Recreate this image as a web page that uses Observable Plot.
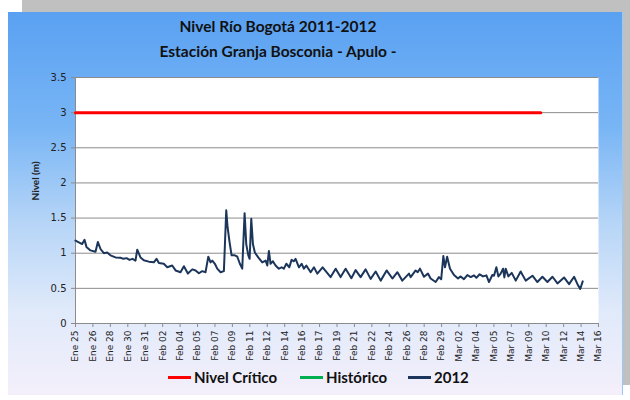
<!DOCTYPE html>
<html>
<head>
<meta charset="utf-8">
<script src="https://cdn.jsdelivr.net/npm/d3@7"></script>
<script src="https://cdn.jsdelivr.net/npm/@observablehq/plot@0.6"></script>
<style>
  body { margin: 0; background: #ffffff; }
  #wrap { position: relative; width: 630px; height: 400px; overflow: hidden; font-family: Lato, "Open Sans", sans-serif; }
  #shadow { position: absolute; left: 22px; top: 0; width: 608px; height: 385px; background: #c0c0c0; }
  #panel { position: absolute; left: 8px; top: 12px; width: 614px; height: 383px;
    background: linear-gradient(to bottom, #5aa1f2 0%, #78b5f5 30%, #b6d5f7 55%, #e0eafa 78%, #f4effb 100%);
    border-right: 1px solid #9cc8f5; }
  #title { position: absolute; left: 78px; width: 400px; top: 14px; text-align: center; font-weight: bold; font-size: 15.5px; line-height: 25px; color: #111; }
  #chart { position: absolute; left: 0; top: 0; }
  #legend { position: absolute; top: 368px; left: 0; width: 630px; font-weight: bold; font-size: 15px; color: #111; }
  .item { position: absolute; display: flex; align-items: center; }
  .sw { display: inline-block; width: 23px; height: 3px; margin-right: 3px; }
</style>
</head>
<body>
<div id="wrap">
  <div id="shadow"></div>
  <div id="panel"></div>
  <div id="chart"></div>
  <div id="title">Nivel Río Bogotá 2011-2012<br>Estación Granja Bosconia - Apulo -</div>
  <div id="legend"></div>
</div>
<script>
// Days since Ene 25 (2012) and river level (m)
const dias = [0,0.65,0.88,1.07,1.46,1.95,2.18,2.44,2.76,3.09,3.41,3.90,4.39,4.68,4.98,5.27,5.56,5.85,6.02,6.34,6.66,7.15,7.64,7.90,8.13,8.61,8.95,9.43,9.76,10.24,10.57,10.96,11.39,11.71,12.03,12.36,12.68,12.95,13.17,13.34,13.59,13.82,14.15,14.47,14.70,14.83,15.02,15.22,15.54,15.78,16.03,16.26,16.49,16.65,16.85,16.98,17.14,17.30,17.49,17.82,18.21,18.54,18.70,18.86,19.02,19.25,19.51,19.83,20.10,20.32,20.56,20.85,21.07,21.30,21.46,21.79,22.05,22.27,22.51,22.93,23.25,23.58,24.10,24.88,25.37,25.85,26.34,26.90,27.32,27.80,28.29,28.78,29.27,29.76,30.34,30.90,31.39,31.87,32.52,32.68,33.17,33.37,33.59,33.98,34.37,34.63,35.12,35.44,35.66,35.87,36.03,36.24,36.52,36.91,37.30,37.56,37.88,38.21,38.54,38.86,39.09,39.41,39.74,40.07,40.32,40.65,40.81,41.04,41.24,41.46,41.69,41.82,41.95,42.21,42.54,42.93,43.41,43.90,44.56,45.04,45.53,46.02,46.51,47.00,47.64,48.13,48.62,48.95,49.22,49.46];
const nivel2012 = [1.18,1.13,1.19,1.09,1.04,1.02,1.16,1.06,1.00,1.01,0.97,0.94,0.935,0.92,0.93,0.905,0.92,0.895,1.05,0.94,0.90,0.88,0.87,0.92,0.86,0.85,0.80,0.825,0.755,0.73,0.815,0.71,0.77,0.755,0.715,0.745,0.73,0.95,0.87,0.895,0.85,0.78,0.73,0.745,1.61,1.37,1.16,0.97,0.97,0.95,0.85,0.78,1.57,1.13,0.97,0.92,1.49,1.13,1.01,0.94,0.87,0.895,0.825,1.03,0.85,0.885,0.825,0.78,0.80,0.78,0.85,0.80,0.905,0.885,0.92,0.80,0.85,0.78,0.825,0.73,0.80,0.71,0.80,0.66,0.78,0.66,0.78,0.645,0.76,0.66,0.77,0.635,0.74,0.61,0.755,0.64,0.73,0.61,0.71,0.66,0.755,0.73,0.78,0.665,0.71,0.64,0.59,0.66,0.63,0.96,0.80,0.95,0.78,0.69,0.64,0.67,0.63,0.69,0.66,0.685,0.65,0.70,0.67,0.685,0.59,0.69,0.68,0.80,0.67,0.71,0.78,0.655,0.78,0.67,0.72,0.61,0.74,0.61,0.68,0.59,0.665,0.59,0.665,0.57,0.655,0.56,0.665,0.56,0.49,0.60];
const criticoDias = [0, 45.37];
const criticoNivel = [3, 3];
const xTickLabels = ["Ene 25","Ene 26","Ene 28","Ene 30","Ene 31","Feb 02","Feb 04","Feb 05","Feb 07","Feb 09","Feb 11","Feb 12","Feb 14","Feb 16","Feb 17","Feb 19","Feb 21","Feb 22","Feb 24","Feb 26","Feb 28","Feb 29","Mar 02","Mar 04","Mar 05","Mar 07","Mar 09","Mar 10","Mar 12","Mar 14","Mar 16"];
const yTicks = [0, 0.5, 1, 1.5, 2, 2.5, 3, 3.5];
const yTickLabels = ["0","0.5","1","1.5","2","2.5","3","3.5"];
const yTitle = "Nivel (m)";
const seriesNames = ["Nivel Crítico", "Histórico", "2012"];
const seriesColors = ["#ff0000", "#00b050", "#1c355a"];

const xStep = 51 / (xTickLabels.length - 1); // Excel date-axis major unit (days)
const xTicks = xTickLabels.map((_, i) => i * xStep);

const serie = dias.map((d, i) => ({d, v: nivel2012[i]}));
const critico = criticoDias.map((d, i) => ({d, v: criticoNivel[i]}));

const chart = Plot.plot({
  width: 630,
  height: 400,
  marginLeft: 75,
  marginRight: 32,
  marginTop: 77,
  marginBottom: 77,
  style: {background: "transparent", fontFamily: "'DejaVu Sans', sans-serif", color: "#222"},
  x: {type: "linear", domain: [0, 51]},
  y: {domain: [0, 3.5]},
  marks: [
    Plot.frame({fill: "white", stroke: "none"}),
    Plot.ruleY(yTicks.slice(1), {stroke: "#8c8c8c", strokeWidth: 1}),
    Plot.ruleY([0], {stroke: "#8c8c8c"}),
    Plot.ruleX([0], {stroke: "#8c8c8c"}),
    Plot.axisY({ticks: yTicks, tickFormat: (d, i) => yTickLabels[i], tickSize: 4, stroke: "#8c8c8c", fontSize: 10, label: null}),
    Plot.text([yTitle], {frameAnchor: "left", dx: -40, rotate: -90, fontSize: 10, fontWeight: "bold", fontFamily: "Lato, sans-serif", fill: "#222"}),
    Plot.axisX({ticks: xTicks, tickFormat: (d, i) => xTickLabels[i], tickSize: 4, tickRotate: -90, fontSize: 9,
      stroke: "#8c8c8c", label: null, tickPadding: 3}),
    Plot.line(critico, {x: "d", y: "v", stroke: seriesColors[0], strokeWidth: 3}),
    Plot.line(serie, {x: "d", y: "v", stroke: seriesColors[2], strokeWidth: 2, strokeLinejoin: "round"})
  ]
});
document.getElementById("chart").appendChild(chart);

const legend = document.getElementById("legend");
const legendX = [168, 300, 408];
seriesNames.forEach((name, i) => {
  const it = document.createElement("div");
  it.className = "item";
  it.style.left = legendX[i] + "px";
  const sw = document.createElement("span");
  sw.className = "sw";
  sw.style.background = seriesColors[i];
  it.appendChild(sw);
  it.appendChild(document.createTextNode(name));
  legend.appendChild(it);
});
</script>
</body>
</html>
